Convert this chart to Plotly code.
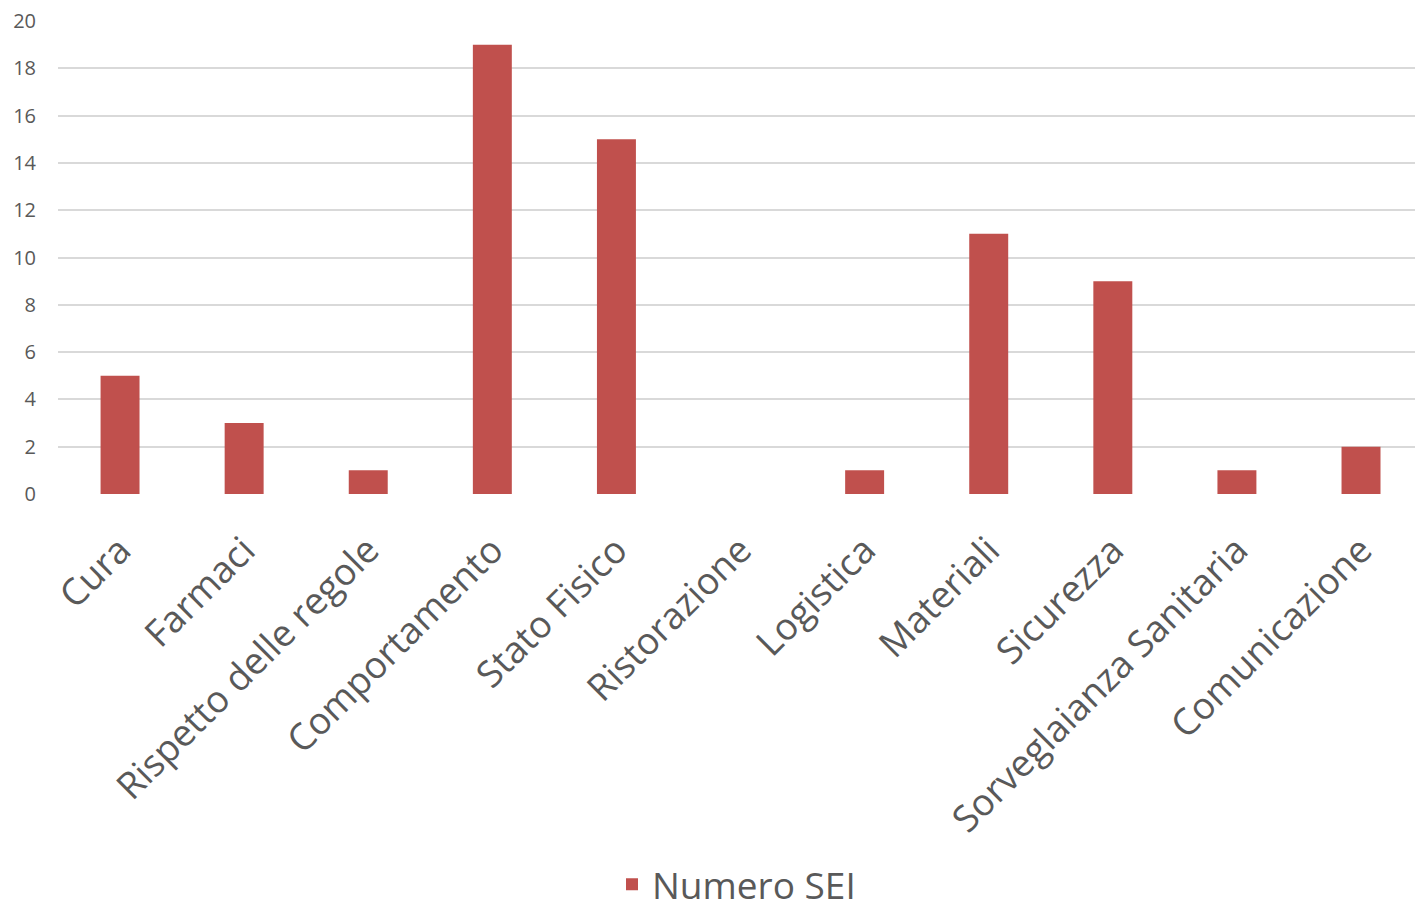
import plotly.graph_objects as go

categories = ["Cura", "Farmaci", "Rispetto delle regole", "Comportamento", "Stato Fisico",
              "Ristorazione", "Logistica", "Materiali", "Sicurezza",
              "Sorveglaianza Sanitaria", "Comunicazione"]
values = [5, 3, 1, 19, 15, 0, 1, 11, 9, 1, 2]
series_name = "Numero SEI"

fig = go.Figure()
fig.add_trace(go.Bar(x=categories, y=values, name=series_name,
                     marker=dict(color="#C0504D", line=dict(width=0))))

fig.update_layout(
    width=1415, height=910,
    margin=dict(l=58, r=0, t=21, b=416, autoexpand=False),
    paper_bgcolor="white", plot_bgcolor="white",
    font=dict(family="Open Sans", color="#595959"),
    bargap=0.686,
    showlegend=True,
    legend=dict(orientation="h", x=0.5, xanchor="center", y=-0.826, yref="paper",
                yanchor="middle", font=dict(size=37, color="#595959"),
                bgcolor="rgba(0,0,0,0)"),
    xaxis=dict(tickangle=-45, tickfont=dict(size=37, color="#595959"),
               range=[-0.5, 10.435], ticklabelstandoff=26,
               showline=False, showgrid=False, zeroline=False, ticks=""),
    yaxis=dict(range=[0, 20], dtick=2, tickfont=dict(size=20, color="#595959"),
               showgrid=True, gridcolor="#D9D9D9", gridwidth=2, zeroline=False,
               showline=False, ticks="", ticklabelstandoff=21),
)

fig.write_html("out.html")
